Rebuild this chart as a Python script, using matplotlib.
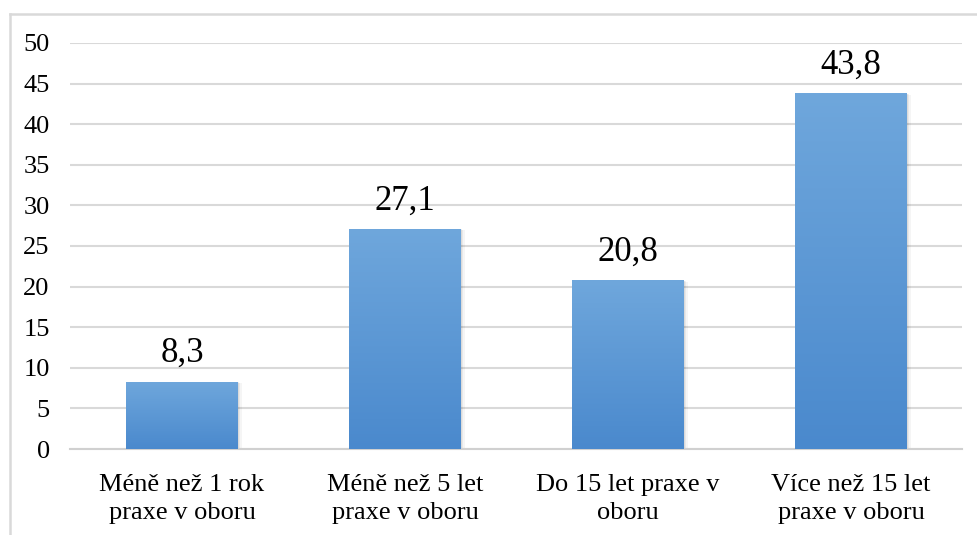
import matplotlib.pyplot as plt
import matplotlib.patches as mpatches
from matplotlib.colors import LinearSegmentedColormap
from matplotlib.lines import Line2D
import numpy as np

# Data
categories = ['Méně než 1 rok\npraxe v oboru', 'Méně než 5 let\npraxe v oboru',
              'Do 15 let praxe v\noboru', 'Více než 15 let\npraxe v oboru']
values = [8.3, 27.1, 20.8, 43.8]
labels = ['8,3', '27,1', '20,8', '43,8']
yticks = [0, 5, 10, 15, 20, 25, 30, 35, 40, 45, 50]

plt.rcParams['font.family'] = ['Liberation Serif', 'DejaVu Serif']

fig = plt.figure(figsize=(9.78, 5.35), dpi=100)
ax = fig.add_axes([70.5 / 978, 1 - 449 / 535, 892 / 978, 406 / 535])

# Outer frame (top and left edges visible)
fy = 1 - 13.5 / 535
fx = 9.5 / 978
fig.lines.append(Line2D([fx, 1.0], [fy, fy], transform=fig.transFigure, color='#d9d9d9', linewidth=1.8))
fig.lines.append(Line2D([fx, fx], [0, fy], transform=fig.transFigure, color='#d9d9d9', linewidth=1.8))

x = np.arange(len(values))
width = 0.5

# Gradient fill (light at top, darker at bottom)
grad = np.linspace(0, 1, 256).reshape(-1, 1)
cmap = LinearSegmentedColormap.from_list('blu', ['#4a89cd', '#6fa7dc'])

for xi, v, lab in zip(x, values, labels):
    # soft shadow
    for k, a in enumerate([0.06, 0.05, 0.04]):
        off = 0.006 * (k + 1)
        ax.add_patch(mpatches.Rectangle((xi - width / 2 + off, -0.1), width, v + 0.1 - off * 10,
                                        facecolor='black', alpha=a, edgecolor='none', zorder=2))
    bar = ax.bar(xi, v, width=width, color='none', zorder=3)[0]
    im = ax.imshow(grad, extent=[xi - width / 2, xi + width / 2, 0, v], origin='lower',
                   cmap=cmap, aspect='auto', zorder=3)
    im.set_clip_path(bar)
    ax.text(xi, v + 2.4, lab, ha='center', va='baseline', fontsize=25, color='#000000')

ax.set_xlim(-0.5, len(values) - 0.5)
ax.set_ylim(0, 50)
ax.set_yticks(yticks)
ax.set_yticklabels([str(t) for t in yticks], fontsize=19)
ax.set_xticks(x)
ax.set_xticklabels(categories, fontsize=19, linespacing=1.35)
ax.tick_params(axis='both', length=0, colors='#000000')
ax.tick_params(axis='y', pad=15)
ax.tick_params(axis='x', pad=18)

ax.grid(axis='y', color='#d9d9d9', linewidth=1.5, zorder=0)
ax.set_axisbelow(True)
for s in ['top', 'right', 'left']:
    ax.spines[s].set_visible(False)
ax.spines['bottom'].set_color('#d0d0d0')
ax.spines['bottom'].set_linewidth(1.5)

fig.savefig('out.png', dpi=100)
